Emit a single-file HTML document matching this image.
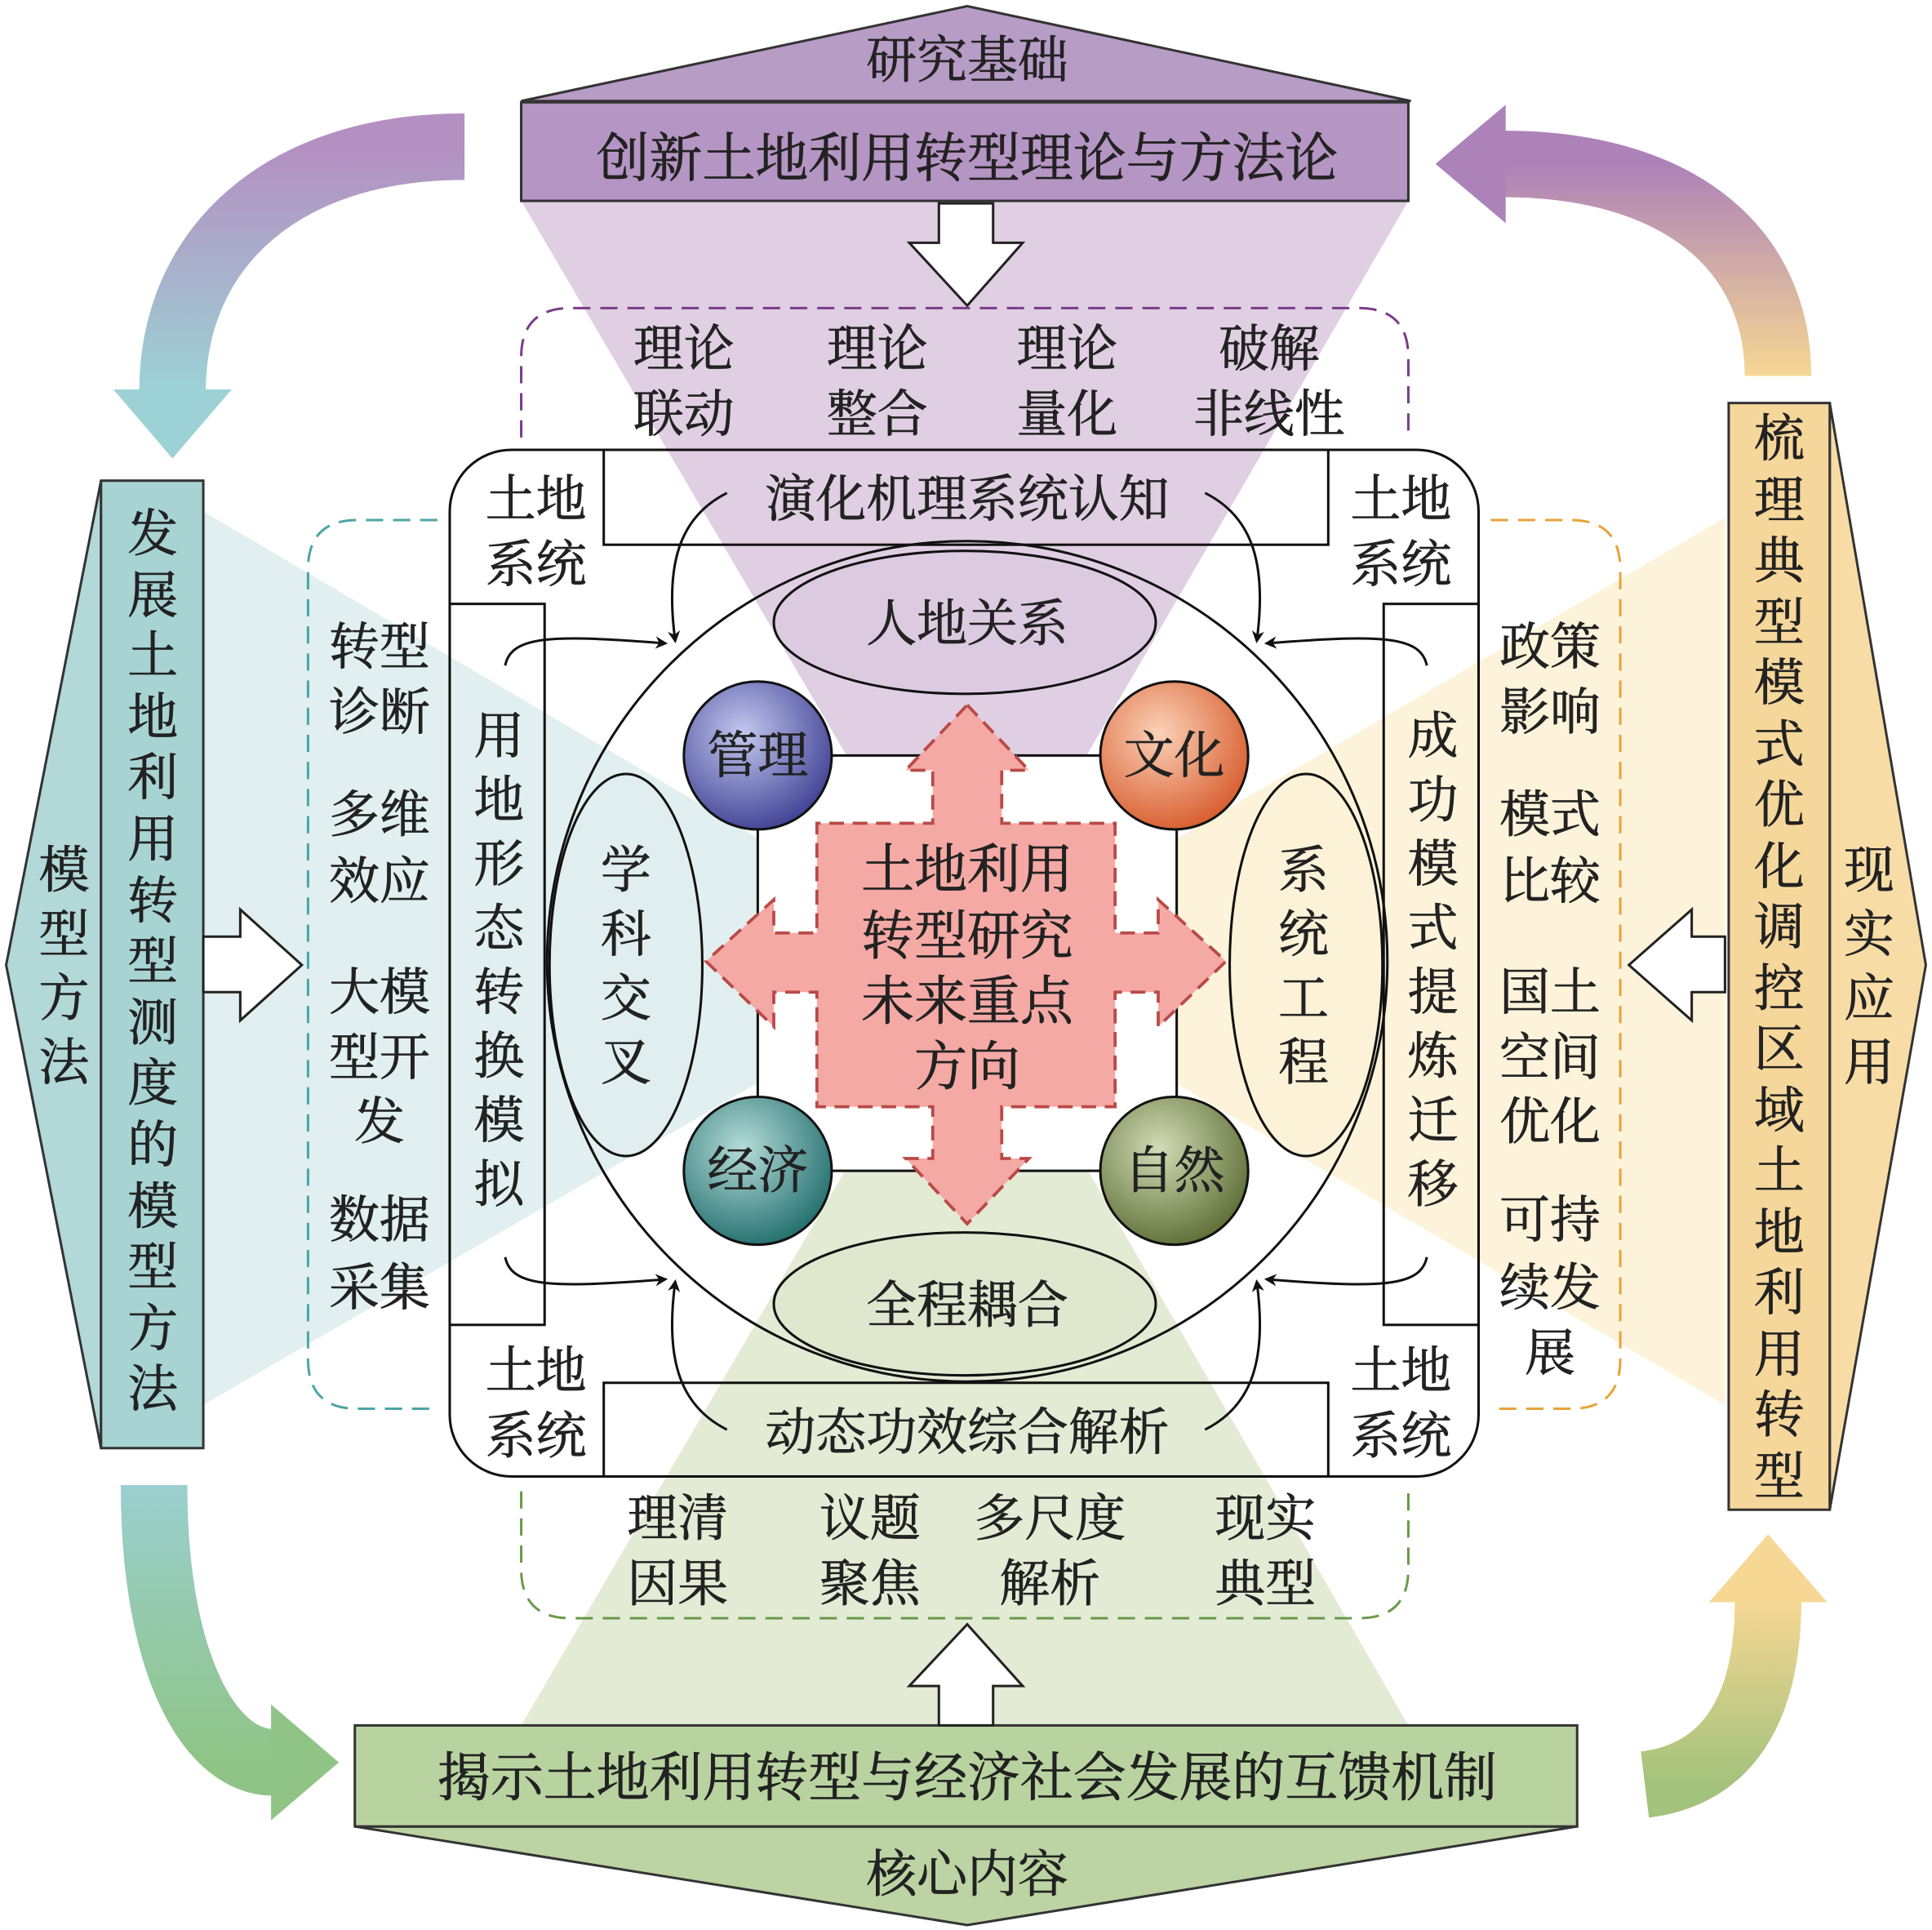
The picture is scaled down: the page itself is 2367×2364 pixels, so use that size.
<!DOCTYPE html>
<html><head><meta charset="utf-8"><style>
html,body{margin:0;padding:0;background:#fff;}
svg{display:block;}
text{font-family:"Liberation Serif","Noto Serif CJK SC",serif;fill:#222;stroke:#222;stroke-width:0.5px;}
</style></head><body>
<svg width="2367" height="2364" viewBox="0 0 1568 1566" preserveAspectRatio="none" xmlns="http://www.w3.org/2000/svg">
<defs>
<linearGradient id="gTL" x1="0" y1="0" x2="0" y2="1"><stop offset="0" stop-color="#b48fc2"/><stop offset="1" stop-color="#9cd2d5"/></linearGradient>
<linearGradient id="gTR" x1="0" y1="1" x2="0" y2="0"><stop offset="0" stop-color="#f6d794"/><stop offset="1" stop-color="#ad82b8"/></linearGradient>
<linearGradient id="gBL" x1="0" y1="0" x2="0" y2="1"><stop offset="0" stop-color="#9acfcf"/><stop offset="1" stop-color="#8fc486"/></linearGradient>
<linearGradient id="gBR" x1="0" y1="1" x2="0" y2="0"><stop offset="0" stop-color="#a3c27c"/><stop offset="1" stop-color="#f6d794"/></linearGradient>
<radialGradient id="sB" cx="0.4" cy="0.35" r="0.7"><stop offset="0" stop-color="#c3c8ef"/><stop offset="1" stop-color="#3d3f92"/></radialGradient>
<radialGradient id="sO" cx="0.4" cy="0.35" r="0.7"><stop offset="0" stop-color="#fbd2b8"/><stop offset="1" stop-color="#d75a2b"/></radialGradient>
<radialGradient id="sT" cx="0.4" cy="0.35" r="0.7"><stop offset="0" stop-color="#b5dcd8"/><stop offset="1" stop-color="#1f6c6c"/></radialGradient>
<radialGradient id="sG" cx="0.4" cy="0.35" r="0.7"><stop offset="0" stop-color="#d3dcb5"/><stop offset="1" stop-color="#5b6c34"/></radialGradient>
<marker id="ah" markerWidth="10" markerHeight="10" refX="8" refY="5" orient="auto" markerUnits="userSpaceOnUse" viewBox="0 0 10 10"><path d="M0,0 L10,5 L0,10 L3,5Z" fill="#111"/></marker>
</defs>

<polygon points="423,163 1143,163 785,780" fill="#e0cfe3"/>
<polygon points="165,415 165,1140 785,780" fill="#e1eff0"/>
<polygon points="1400,420 1400,1140 785,780" fill="#fcf3da"/>
<polygon points="423,1400 1143,1400 785,780" fill="#e3ebd5"/>

<path d="M377,119 C230,119 140,200 140,318" stroke="url(#gTL)" stroke-width="54" fill="none"/>
<polygon points="92,316 188,316 140,372" fill="#9cd2d5"/>
<path d="M1443,305 C1443,200 1360,133 1220,133" stroke="url(#gTR)" stroke-width="54" fill="none"/>
<polygon points="1222,85 1222,181 1165,133" fill="#ad82b8"/>
<path d="M125,1205 C125,1350 170,1430 222,1430" stroke="url(#gBL)" stroke-width="54" fill="none"/>
<polygon points="220,1383 220,1477 275,1430" fill="#8fc486"/>
<path d="M1335,1448 C1400,1440 1435,1390 1435,1298" stroke="url(#gBR)" stroke-width="54" fill="none"/>
<polygon points="1387,1300 1483,1300 1435,1245" fill="#f6d794"/>

<polygon points="423,82 785,5 1145,82" fill="#b79cc6" stroke="#333" stroke-width="2"/>
<rect x="423" y="83" width="720" height="80" fill="#b595c3" stroke="#333" stroke-width="2"/>
<text x="785" y="63" font-size="41" text-anchor="middle">研究基础</text>
<text x="785" y="143" font-size="43" text-anchor="middle">创新土地利用转型理论与方法论</text>

<polygon points="288,1482 785,1562 1280,1482" fill="#bcd3a3" stroke="#333" stroke-width="2"/>
<rect x="288" y="1400" width="992" height="82" fill="#b9d3a0" stroke="#333" stroke-width="2"/>
<text x="785" y="1457" font-size="43" text-anchor="middle">揭示土地利用转型与经济社会发展的互馈机制</text>
<text x="785" y="1535" font-size="41" text-anchor="middle">核心内容</text>

<polygon points="82,390 5,783 82,1175" fill="#b2d8d8" stroke="#333" stroke-width="2"/>
<rect x="82" y="390" width="83" height="785" fill="#a8d3d3" stroke="#333" stroke-width="2"/>
<g font-size="41" text-anchor="middle">
<text x="124" y="447">发</text><text x="124" y="497">展</text><text x="124" y="546">土</text><text x="124" y="596">地</text><text x="124" y="645">利</text><text x="124" y="695">用</text><text x="124" y="745">转</text><text x="124" y="794">型</text><text x="124" y="844">测</text><text x="124" y="893">度</text><text x="124" y="943">的</text><text x="124" y="993">模</text><text x="124" y="1042">型</text><text x="124" y="1092">方</text><text x="124" y="1141">法</text>
<text x="52" y="720">模</text><text x="52" y="772">型</text><text x="52" y="824">方</text><text x="52" y="876">法</text>
</g>

<polygon points="1485,327 1563,783 1485,1225" fill="#f8dca6" stroke="#333" stroke-width="2"/>
<rect x="1403" y="327" width="82" height="898" fill="#f6d79b" stroke="#333" stroke-width="2"/>
<g font-size="41" text-anchor="middle">
<text x="1444" y="370">梳</text><text x="1444" y="420">理</text><text x="1444" y="469">典</text><text x="1444" y="519">型</text><text x="1444" y="568">模</text><text x="1444" y="618">式</text><text x="1444" y="667">优</text><text x="1444" y="717">化</text><text x="1444" y="766">调</text><text x="1444" y="816">控</text><text x="1444" y="865">区</text><text x="1444" y="915">域</text><text x="1444" y="964">土</text><text x="1444" y="1014">地</text><text x="1444" y="1063">利</text><text x="1444" y="1113">用</text><text x="1444" y="1162">转</text><text x="1444" y="1212">型</text>
<text x="1517" y="720">现</text><text x="1517" y="772">实</text><text x="1517" y="824">应</text><text x="1517" y="876">用</text>
</g>

<polygon points="762,165 806,165 806,197 830,197 785,248 738,197 762,197" fill="#fff" stroke="#222" stroke-width="2"/>
<polygon points="762,1400 806,1400 806,1368 830,1368 785,1318 738,1368 762,1368" fill="#fff" stroke="#222" stroke-width="2"/>
<polygon points="165,760 195,760 195,738 245,783 195,828 195,805 165,805" fill="#fff" stroke="#222" stroke-width="2"/>
<polygon points="1400,760 1373,760 1373,738 1322,783 1373,828 1373,805 1400,805" fill="#fff" stroke="#222" stroke-width="2"/>

<path d="M423,355 L423,290 Q423,250 463,250 L1103,250 Q1143,250 1143,290 L1143,355" fill="none" stroke="#7a3d8a" stroke-width="2" stroke-dasharray="14,8"/>
<path d="M423,1210 L423,1273 Q423,1313 463,1313 L1103,1313 Q1143,1313 1143,1273 L1143,1210" fill="none" stroke="#6a9a4a" stroke-width="2" stroke-dasharray="14,8"/>
<path d="M355,422 L290,422 Q250,422 250,462 L250,1103 Q250,1143 290,1143 L355,1143" fill="none" stroke="#4ca5a5" stroke-width="2" stroke-dasharray="14,8"/>
<path d="M1210,422 L1275,422 Q1315,422 1315,462 L1315,1103 Q1315,1143 1275,1143 L1210,1143" fill="none" stroke="#e8a33a" stroke-width="2" stroke-dasharray="14,8"/>

<g font-size="41" text-anchor="middle">
<text x="555" y="297">理论</text><text x="555" y="350">联动</text>
<text x="712" y="297">理论</text><text x="712" y="350">整合</text>
<text x="866" y="297">理论</text><text x="866" y="350">量化</text>
<text x="1030" y="297">破解</text><text x="1030" y="350">非线性</text>
<text x="550" y="1246">理清</text><text x="550" y="1299">因果</text>
<text x="706" y="1246">议题</text><text x="706" y="1299">聚焦</text>
<text x="852" y="1246">多尺度</text><text x="852" y="1299">解析</text>
<text x="1027" y="1246">现实</text><text x="1027" y="1299">典型</text>
<text x="308" y="539">转型</text><text x="308" y="592">诊断</text>
<text x="308" y="675">多维</text><text x="308" y="729">效应</text>
<text x="308" y="819">大模</text><text x="308" y="872">型开</text><text x="308" y="924">发</text>
<text x="308" y="1004">数据</text><text x="308" y="1059">采集</text>
<text x="1258" y="539">政策</text><text x="1258" y="592">影响</text>
<text x="1258" y="675">模式</text><text x="1258" y="729">比较</text>
<text x="1258" y="819">国土</text><text x="1258" y="872">空间</text><text x="1258" y="924">优化</text>
<text x="1258" y="1004">可持</text><text x="1258" y="1059">续发</text><text x="1258" y="1112">展</text>
</g>

<rect x="365" y="365" width="835" height="833" rx="50" fill="none" stroke="#111" stroke-width="2"/>
<rect x="490" y="365" width="588" height="77" fill="none" stroke="#111" stroke-width="2"/>
<rect x="490" y="1122" width="588" height="76" fill="none" stroke="#111" stroke-width="2"/>
<rect x="365" y="490" width="77" height="585" fill="none" stroke="#111" stroke-width="2"/>
<rect x="1123" y="490" width="77" height="585" fill="none" stroke="#111" stroke-width="2"/>
<g font-size="41" text-anchor="middle">
<text x="785" y="419">演化机理系统认知</text>
<text x="785" y="1176">动态功效综合解析</text>
<text x="435" y="419">土地</text><text x="435" y="472">系统</text>
<text x="1137" y="419">土地</text><text x="1137" y="472">系统</text>
<text x="435" y="1126">土地</text><text x="435" y="1179">系统</text>
<text x="1137" y="1126">土地</text><text x="1137" y="1179">系统</text>
<text x="405" y="611">用</text><text x="405" y="663">地</text><text x="405" y="715">形</text><text x="405" y="767">态</text><text x="405" y="819">转</text><text x="405" y="871">换</text><text x="405" y="923">模</text><text x="405" y="975">拟</text>
<text x="1163" y="611">成</text><text x="1163" y="663">功</text><text x="1163" y="715">模</text><text x="1163" y="767">式</text><text x="1163" y="819">提</text><text x="1163" y="871">炼</text><text x="1163" y="923">迁</text><text x="1163" y="975">移</text>
</g>

<circle cx="785" cy="780" r="341" fill="none" stroke="#111" stroke-width="2"/>
<rect x="615" y="613" width="340" height="337" fill="#fff" stroke="#111" stroke-width="2"/>

<g fill="none" stroke="#111" stroke-width="2" marker-end="url(#ah)">
<path d="M590,400 C550,420 540,460 548,520"/>
<path d="M978,400 C1018,420 1028,460 1020,520"/>
<path d="M410,540 C415,515 450,515 540,522"/>
<path d="M1158,540 C1153,515 1118,515 1028,522"/>
<path d="M410,1020 C415,1045 450,1045 540,1038"/>
<path d="M1158,1020 C1153,1045 1118,1045 1028,1038"/>
<path d="M590,1160 C550,1140 540,1100 548,1040"/>
<path d="M978,1160 C1018,1140 1028,1100 1020,1040"/>
</g>

<ellipse cx="783" cy="505" rx="155" ry="58" fill="#dccbe0" stroke="#111" stroke-width="2"/>
<ellipse cx="783" cy="1058" rx="155" ry="58" fill="#dfe7cf" stroke="#111" stroke-width="2"/>
<ellipse cx="508" cy="783" rx="62" ry="155" fill="#e1eef0" stroke="#111" stroke-width="2"/>
<ellipse cx="1060" cy="783" rx="62" ry="155" fill="#fcf2d8" stroke="#111" stroke-width="2"/>
<g font-size="41" text-anchor="middle">
<text x="785" y="520">人地关系</text>
<text x="785" y="1073">全程耦合</text>
<text x="508" y="720">学</text><text x="508" y="772">科</text><text x="508" y="824">交</text><text x="508" y="876">叉</text>
<text x="1058" y="720">系</text><text x="1058" y="772">统</text><text x="1058" y="824">工</text><text x="1058" y="876">程</text>
</g>

<circle cx="615" cy="613" r="60" fill="url(#sB)" stroke="#111" stroke-width="2"/>
<circle cx="953" cy="613" r="60" fill="url(#sO)" stroke="#111" stroke-width="2"/>
<circle cx="615" cy="950" r="60" fill="url(#sT)" stroke="#111" stroke-width="2"/>
<circle cx="953" cy="950" r="60" fill="url(#sG)" stroke="#111" stroke-width="2"/>
<g font-size="41" text-anchor="middle">
<text x="615" y="627">管理</text><text x="953" y="627">文化</text><text x="615" y="964">经济</text><text x="953" y="964">自然</text>
</g>

<polygon points="785,572 835,625 813,625 813,668 905,668 905,757 940,757 940,730 995,780 940,833 940,805 905,805 905,898 813,898 813,940 835,940 785,993 735,940 757,940 757,898 663,898 663,805 628,805 628,833 573,780 628,730 628,757 663,757 663,668 757,668 757,625 735,625" fill="#f4a9a5" stroke="#b94a46" stroke-width="2.5" stroke-dasharray="12,7"/>
<g font-size="43" text-anchor="middle">
<text x="785" y="720">土地利用</text>
<text x="785" y="774">转型研究</text>
<text x="785" y="827">未来重点</text>
<text x="785" y="880">方向</text>
</g>
</svg>
</body></html>
